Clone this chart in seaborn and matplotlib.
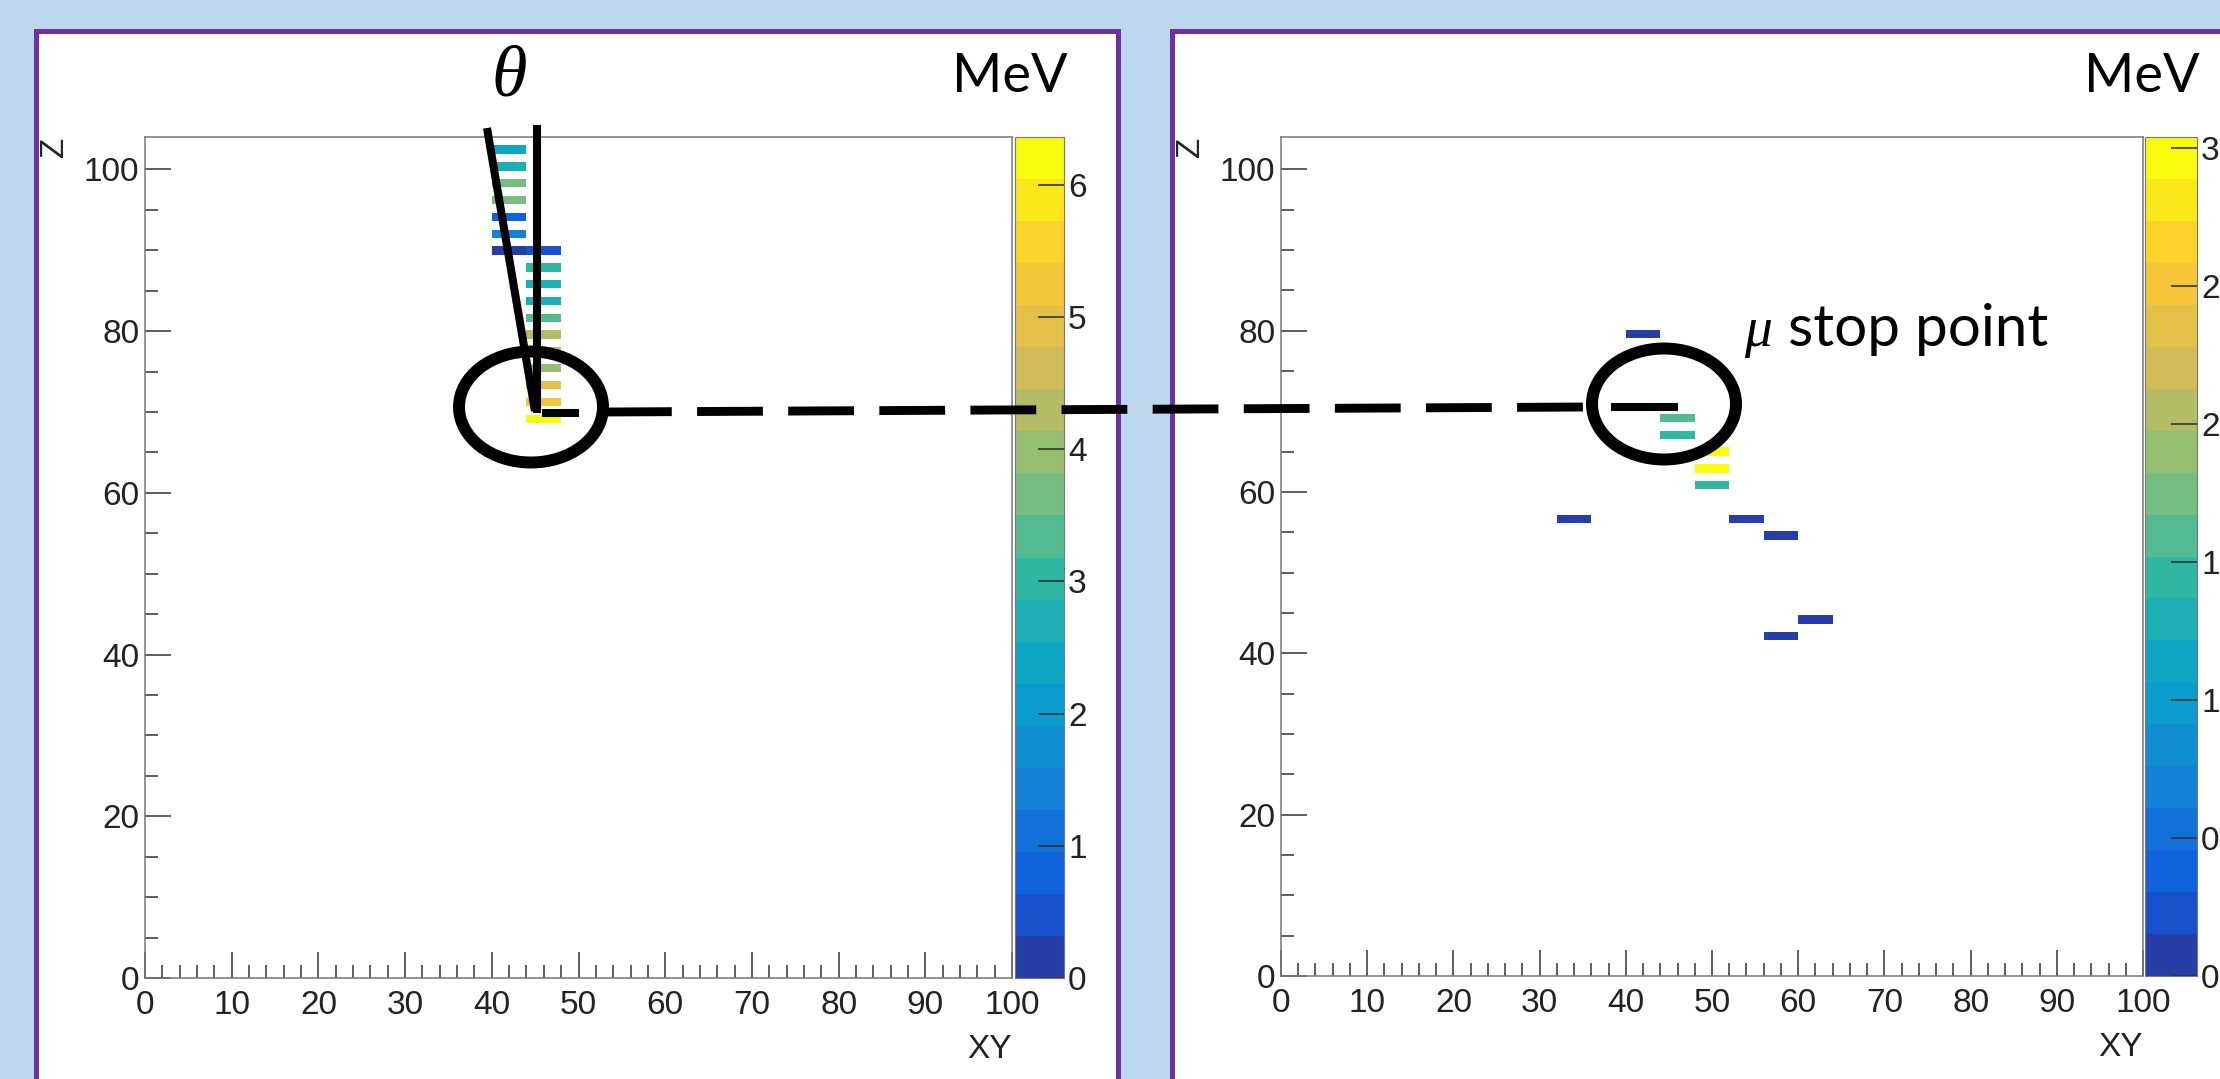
import numpy as np
import matplotlib
matplotlib.use('Agg')
import matplotlib.pyplot as plt
from matplotlib.colors import LinearSegmentedColormap, ListedColormap
from matplotlib.patches import Rectangle, Ellipse
from matplotlib.lines import Line2D
from matplotlib.ticker import MultipleLocator, FuncFormatter
import seaborn as sns

# --- Binning : XY en 25 bins de 4, Z en 100 couches de 1.04 ---
XY_BORDS = np.linspace(0, 100, 26)
Z_BORDS = np.linspace(0, 104, 101)

# --- Vue gauche : dépôts d'énergie (MeV) ---
gauche_xy = [42, 42, 42, 42, 42, 42, 42, 46, 46, 46, 46, 46, 46, 46, 46, 46, 46, 46]
gauche_z = [102.4, 100.4, 98.3, 96.2, 94.1, 92.0, 90.0, 90.0, 87.9, 85.8,
            83.7, 81.6, 79.6, 77.5, 75.4, 73.3, 71.2, 69.2]
gauche_e = [2.3, 2.85, 3.5, 3.8, 0.95, 1.4, 0.3, 0.6, 3.05, 2.7,
            2.7, 3.4, 4.4, 4.6, 3.9, 4.85, 5.35, 6.36]
gauche_ticks_cb = [0, 1, 2, 3, 4, 5, 6]

# --- Vue droite ---
droite_xy = [42, 46, 46, 50, 50, 50, 34, 54, 58, 62, 58]
droite_z = [79.6, 69.2, 67.1, 65.0, 62.9, 60.8, 56.7, 56.7, 54.6, 44.2, 42.1]
droite_e = [0.1, 1.67, 1.46, 2.95, 3.04, 1.46, 0.1, 0.1, 0.1, 0.1, 0.1]
droite_ticks_cb = [0, 0.5, 1, 1.5, 2, 2.5, 3]

plt.rcParams['font.family'] = ['Liberation Sans', 'DejaVu Sans']

# Palette kBird de ROOT, 20 niveaux de contour
stops = [0.0, 0.125, 0.25, 0.375, 0.5, 0.625, 0.75, 0.875, 1.0]
rouge = [0.2082, 0.0592, 0.0780, 0.0232, 0.1802, 0.5301, 0.8186, 0.9956, 0.9764]
vert = [0.1664, 0.3599, 0.5041, 0.6419, 0.7178, 0.7492, 0.7328, 0.7862, 0.9832]
bleu = [0.5293, 0.8684, 0.8385, 0.7914, 0.6425, 0.4662, 0.3499, 0.1968, 0.0539]
bird = LinearSegmentedColormap.from_list('kBird', list(zip(stops, zip(rouge, vert, bleu))))
cmap = ListedColormap([bird(int((i + 0.99) * 255 / 20) / 254) for i in range(20)])

W, H = 2220, 1079
FOND = '#BDD7EE'
VIOLET = '#7030A0'
TAILLE = 24


def fx(x):
    return x / W


def fy(y):
    return 1 - y / H


fig = plt.figure(figsize=(W / 100, H / 100), dpi=100, facecolor=FOND)

# cadres blancs des deux diapos
for x0, x1 in [(36, 1118), (1172, 2260)]:
    fig.add_artist(Rectangle((fx(x0), fy(1110)), fx(x1 - x0), (1110 - 31) / H,
                             transform=fig.transFigure, fc='white', ec=VIOLET,
                             lw=3.6, zorder=-10))


def panneau(x0, x1, y_haut, y_bas, c0, c1, xs, zs, es, ticks_cb):
    h = (y_bas - y_haut) / H
    ax = fig.add_axes([fx(x0), fy(y_bas), fx(x1 - x0), h])
    cax = fig.add_axes([fx(c0), fy(y_bas), fx(c1 - c0), h])
    sns.histplot(x=xs, y=zs, weights=es, bins=(XY_BORDS, Z_BORDS), cmap=cmap,
                 cbar=True, cbar_ax=cax, ax=ax)
    ax.set_xlim(0, 100)
    ax.set_ylim(0, 104)
    ax.set_facecolor('white')
    ax.xaxis.set_major_locator(MultipleLocator(10))
    ax.xaxis.set_minor_locator(MultipleLocator(2))
    ax.yaxis.set_major_locator(MultipleLocator(20))
    ax.yaxis.set_minor_locator(MultipleLocator(5))
    ax.tick_params(which='both', direction='in', color='#333333', width=1.1,
                   labelcolor='#222222', labelsize=TAILLE)
    ax.tick_params(which='major', length=19)
    ax.tick_params(which='minor', length=9.5)
    ax.tick_params(axis='x', pad=9)
    ax.tick_params(axis='y', pad=4)
    for s in ax.spines.values():
        s.set_color('#777777')
        s.set_linewidth(1.1)
    ax.set_xlabel('XY', fontsize=TAILLE, loc='right', labelpad=9, color='#222222')
    ax.set_ylabel('')
    fig.text(fx(x0 - 90), fy(y_haut), 'Z', fontsize=TAILLE, rotation=90,
             ha='center', va='top', color='#222222')

    cb = ax.collections[0].colorbar
    cb.set_ticks(ticks_cb)
    cb.ax.yaxis.set_major_formatter(FuncFormatter(lambda v, p: f'{v:g}'))
    cb.ax.minorticks_off()
    cb.ax.tick_params(direction='in', length=19, width=1.2, labelsize=TAILLE,
                      pad=3, color='#333333', labelcolor='#222222')
    cb.outline.set_edgecolor('#777777')
    cb.outline.set_linewidth(0.8)
    return ax


panneau(145, 1012, 137, 978, 1015, 1064, gauche_xy, gauche_z, gauche_e, gauche_ticks_cb)
panneau(1281, 2143, 137, 976, 2145, 2197, droite_xy, droite_z, droite_e, droite_ticks_cb)


# --- Annotations ---
def trait(x0, y0, x1, y1, lw=5.8, **kw):
    fig.add_artist(Line2D([fx(x0), fx(x1)], [fy(y0), fy(y1)], transform=fig.transFigure,
                          color='black', lw=lw, solid_capstyle='butt', zorder=10, **kw))


trait(487, 128, 535, 411)
trait(537, 125, 537, 413)
trait(542, 413, 579, 413)
trait(1611, 407, 1678, 407)
trait(606, 412, 1587, 407, lw=6.4, dashes=(7.4, 2.85))

for cx, cy in [(531, 407), (1664, 404)]:
    fig.add_artist(Ellipse((fx(cx), fy(cy)), 144 / W, 111 / H, transform=fig.transFigure,
                           fill=False, ec='black', lw=8.6, zorder=11))

fig.text(fx(1010), fy(92), 'MeV', family='Lato', fontsize=39, ha='center', va='baseline')
fig.text(fx(2142), fy(92), 'MeV', family='Lato', fontsize=39, ha='center', va='baseline')
fig.text(fx(509), fy(78), 'θ', family='Liberation Serif', style='italic', fontsize=52,
         ha='center', va='center')
fig.text(fx(1744), fy(346), 'μ', family='Liberation Serif', style='italic', fontsize=40,
         ha='left', va='baseline')
fig.text(fx(1788), fy(346), 'stop point', family='Lato', fontsize=42, ha='left', va='baseline')

fig.savefig('out.png', dpi=100, facecolor=fig.get_facecolor())
